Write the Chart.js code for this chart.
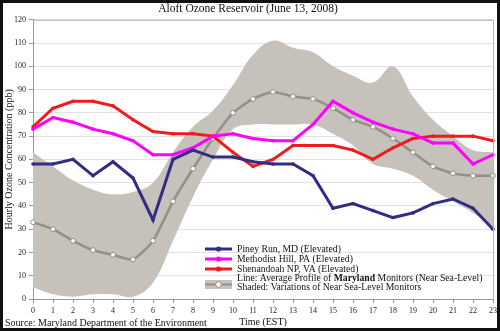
<!DOCTYPE html>
<html>
<head>
<meta charset="utf-8">
<script src="https://cdn.jsdelivr.net/npm/chart.js@4/dist/chart.umd.min.js"></script>
<style>
  html, body { margin: 0; padding: 0; background: #fff; }
  #wrap { width: 500px; height: 331px; }
</style>
</head>
<body>
<div id="wrap"><canvas id="ozone" width="500" height="331"></canvas></div>
<script>
// hours 0..23 (EST)
const hours = ["0","1","2","3","4","5","6","7","8","9","10","11","12","13","14","15","16","17","18","19","20","21","22","23"];

// elevated monitors (ppb)
const pineyRun = [58,58,60,53,59,52,34,60,64,61,61,59,58,58,53,39,41,38,35,37,41,43,39,30];
const methodistHill = [73,78,76,73,71,68,62,62,65,70,71,69,68,68,75,85,80,76,73,71,67,67,58,62];
const shenandoah = [74,82,85,85,83,77,72,71,71,70,63,57,60,66,66,66,64,60,65,69,70,70,70,68];

// Maryland near sea-level monitors: average profile + spread
const mdAverage = [33,30,25,21,19,17,25,42,56,69,80,86,89,87,86,82,77,74,69,63,57,54,53,53];
const bandHigh = [63,57,51,47,45,46,50,63,74,81,92,105,111,108,106,100,96,93,100,87,77,70,64,63];
const bandLow = [5,2,1,2,2,1,7,25,44,60,73,75,75,75,75,71,66,58,56,53,47,42,37,31];

const NAVY = "#322d82";
const MAGENTA = "#ff00ff";
const RED = "#ee1c1c";
const BAND = "#c6c1ba";
const AVG = "#948f89";
const SERIF = "'Liberation Serif', 'Times New Roman', serif";

function siteLine(label, data, color) {
  return {
    label: label,
    data: data,
    borderColor: color,
    backgroundColor: color,
    borderWidth: 3,
    pointRadius: 1.8,
    pointBorderWidth: 0,
    pointBackgroundColor: color,
    tension: 0,
    fill: false,
    order: 0
  };
}

// legend, source note, plot frame and outer border
const decor = {
  id: "decor",
  beforeDraw(chart) {
    const ctx = chart.ctx;
    ctx.save();
    ctx.fillStyle = "#fff";
    ctx.fillRect(0, 0, chart.width, chart.height);
    ctx.restore();
  },
  afterDatasetsDraw(chart) {
    const ctx = chart.ctx;
    const a = chart.chartArea;
    ctx.save();
    ctx.strokeStyle = "#b5b5b5";
    ctx.lineWidth = 1;
    ctx.beginPath();
    ctx.moveTo(a.left, a.top + 0.5);
    ctx.lineTo(a.right + 0.5, a.top + 0.5);
    ctx.lineTo(a.right + 0.5, a.bottom);
    ctx.stroke();
    ctx.restore();
  },
  afterDraw(chart) {
    const ctx = chart.ctx;
    ctx.save();

    // legend
    const x0 = 205, x1 = 232, tx = 237;
    const fs = "9.7px " + SERIF;
    const rows = [
      ["Piney Run, MD (Elevated)", NAVY, 249],
      ["Methodist Hill, PA (Elevated)", MAGENTA, 259],
      ["Shenandoah NP, VA (Elevated)", RED, 269]
    ];
    ctx.font = fs;
    ctx.textBaseline = "middle";
    ctx.textAlign = "left";
    rows.forEach(r => {
      ctx.strokeStyle = r[1];
      ctx.lineWidth = 3;
      ctx.beginPath();
      ctx.moveTo(x0, r[2]);
      ctx.lineTo(x1, r[2]);
      ctx.stroke();
      ctx.fillStyle = r[1];
      ctx.beginPath();
      ctx.arc((x0 + x1) / 2, r[2], 2.6, 0, Math.PI * 2);
      ctx.fill();
      ctx.fillStyle = "#111";
      ctx.fillText(r[0], tx, r[2] + 0.5);
    });

    ctx.fillStyle = BAND;
    ctx.fillRect(x0, 280, x1 - x0, 9);
    ctx.strokeStyle = AVG;
    ctx.lineWidth = 2;
    ctx.beginPath();
    ctx.moveTo(x0, 284.5);
    ctx.lineTo(x1, 284.5);
    ctx.stroke();
    ctx.fillStyle = "#fff";
    ctx.lineWidth = 1;
    ctx.beginPath();
    ctx.arc((x0 + x1) / 2, 284.5, 2.8, 0, Math.PI * 2);
    ctx.fill();
    ctx.stroke();

    ctx.fillStyle = "#111";
    let x = tx;
    const parts = [["Line: Average Profile of ", false], ["Maryland", true], [" Monitors (Near Sea-Level)", false]];
    parts.forEach(p => {
      ctx.font = (p[1] ? "bold " : "") + fs;
      ctx.fillText(p[0], x, 278.5);
      x += ctx.measureText(p[0]).width;
    });
    ctx.font = fs;
    ctx.fillText("Shaded: Variations of Near Sea-Level Monitors", tx, 287.5);

    // source
    ctx.font = "10px " + SERIF;
    ctx.fillText("Source: Maryland Department of the Environment", 5, 323);

    // outer frame
    ctx.strokeStyle = "#111";
    ctx.lineWidth = 3;
    ctx.strokeRect(1.5, 1.5, chart.width - 3, chart.height - 3);
    ctx.restore();
  }
};

new Chart(document.getElementById("ozone").getContext("2d"), {
  type: "line",
  data: {
    labels: hours,
    datasets: [
      siteLine("Piney Run, MD (Elevated)", pineyRun, NAVY),
      siteLine("Methodist Hill, PA (Elevated)", methodistHill, MAGENTA),
      siteLine("Shenandoah NP, VA (Elevated)", shenandoah, RED),
      {
        label: "Average Profile of Maryland Monitors",
        data: mdAverage,
        borderColor: AVG,
        borderWidth: 2.5,
        pointRadius: 2.4,
        pointBorderWidth: 1,
        pointBorderColor: AVG,
        pointBackgroundColor: "#fff",
        tension: 0.2,
        fill: false,
        order: 1
      },
      {
        label: "band high",
        data: bandHigh,
        borderWidth: 0,
        borderColor: BAND,
        backgroundColor: BAND,
        pointRadius: 0,
        tension: 0.4,
        fill: "+1",
        order: 2
      },
      {
        label: "band low",
        data: bandLow,
        borderWidth: 0,
        borderColor: BAND,
        backgroundColor: BAND,
        pointRadius: 0,
        tension: 0.4,
        fill: false,
        order: 3
      }
    ]
  },
  options: {
    responsive: false,
    animation: false,
    devicePixelRatio: 1,
    layout: { padding: { left: 3, right: 7, top: 0, bottom: 3 } },
    plugins: {
      legend: { display: false },
      tooltip: { enabled: false },
      title: {
        display: true,
        text: "Aloft Ozone Reservoir (June 13, 2008)",
        color: "#111",
        font: { family: SERIF, size: 11.5, weight: "normal" },
        padding: { top: 2, bottom: 4 }
      }
    },
    scales: {
      x: {
        offset: false,
        grid: { drawOnChartArea: false, drawTicks: true, tickLength: 4, color: "#999" },
        border: { color: "#999" },
        ticks: { color: "#222", font: { family: SERIF, size: 8 }, maxRotation: 0, autoSkip: false, padding: 3 },
        title: { display: true, text: "Time (EST)", color: "#111", font: { family: SERIF, size: 10 }, padding: { top: 0, bottom: 0 } },
        afterFit(s) { s.height = 29; }
      },
      y: {
        min: 0,
        max: 120,
        grid: { color: "#e2e2e2", tickColor: "#999", tickLength: 4 },
        border: { color: "#999" },
        ticks: { stepSize: 10, color: "#222", font: { family: SERIF, size: 8 }, padding: 3 },
        title: { display: true, text: "Hourly Ozone Concentration (ppb)", color: "#111", font: { family: SERIF, size: 10 }, padding: { top: 0, bottom: 2 } },
        afterFit(s) { s.width = 30; }
      }
    }
  },
  plugins: [decor]
});
</script>
</body>
</html>
